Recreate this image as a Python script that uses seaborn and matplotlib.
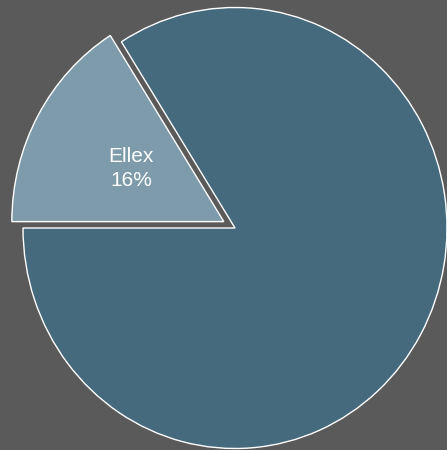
import matplotlib
matplotlib.use('Agg')
import matplotlib.pyplot as plt
import seaborn as sns

# data
names = ['Ellex', 'Other']
shares = [16, 84]
shown = ['Ellex']
colors = ['#7e9bac', '#45697d']

sns.set_theme(style='white', rc={'figure.facecolor': '#5a5a5a',
                                 'axes.facecolor': '#5a5a5a'})
plt.rcParams['font.family'] = ['Liberation Sans', 'DejaVu Sans']

fig = plt.figure(figsize=(4.47, 4.5), dpi=100)
ax = fig.add_axes([0, 0, 1, 1])

labels = [f'{n}\n{s}%' if n in shown else '' for n, s in zip(names, shares)]
explode = [0.06 if n in shown else 0 for n in names]

ax.pie(shares, labels=labels, colors=colors, explode=explode,
       startangle=180, counterclock=False, labeldistance=0.5,
       wedgeprops=dict(edgecolor='white', linewidth=1.0),
       textprops=dict(color='white', fontsize=15, ha='center', va='center',
                      linespacing=1.3))

# pie is drawn a little taller than wide and runs off the right/bottom edge
ax.set_aspect('auto')
ax.set_xlim(-1.1085, 1.0)
ax.set_ylim(-1.0068, 1.034)
ax.axis('off')

fig.savefig('out.png', dpi=100, facecolor=fig.get_facecolor())
